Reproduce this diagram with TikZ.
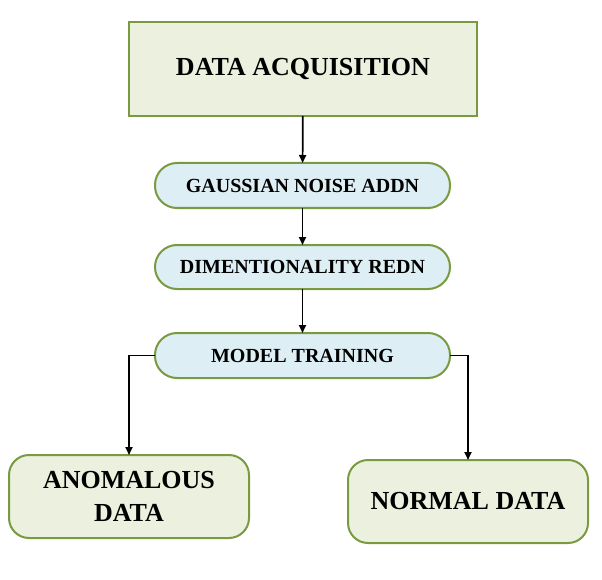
\documentclass[tikz,border=0pt]{standalone}
\usepackage{fontspec}
\setmainfont{Liberation Serif}
\usetikzlibrary{arrows.meta}
\definecolor{gfill}{HTML}{EBF1DE}
\definecolor{gdraw}{HTML}{7A9A40}
\definecolor{bfill}{HTML}{DDEEF4}
\tikzset{
  bigbox/.style={draw=gdraw, fill=gfill, line width=2pt, inner sep=0pt, outer sep=0pt,
    align=center, font=\fontsize{26}{33}\selectfont\bfseries},
  pillbox/.style={draw=gdraw, fill=bfill, line width=2pt, inner sep=0pt, outer sep=0pt,
    rounded corners=22pt, minimum width=295pt, minimum height=45pt,
    font=\fontsize{20}{23}\selectfont\bfseries},
  endbox/.style={bigbox, rounded corners=20pt, minimum width=240pt, minimum height=83pt},
  conn/.style={draw=black, line width=1.7pt, -{Triangle[length=8pt,width=7pt]}}
}
\begin{document}
\begin{tikzpicture}[x=1pt,y=-1pt]
\useasboundingbox (0,0) rectangle (602,580);
\node[bigbox, minimum width=348pt, minimum height=94pt] (acq) at (303,69) {DATA ACQUISITION};
\node[pillbox] (gauss) at (302.5,185.5) {GAUSSIAN NOISE ADDN};
\node[pillbox, minimum height=44pt] (dim) at (302.5,267) {DIMENTIONALITY REDN};
\node[pillbox] (model) at (302.5,355.5) {MODEL TRAINING};
\node[endbox] (anom) at (129,496.5) {ANOMALOUS\\DATA};
\node[endbox] (norm) at (468,501.5) {NORMAL DATA};
\draw[conn] (acq) -- (gauss);
\draw[conn] (gauss) -- (dim);
\draw[conn] (dim) -- (model);
\draw[conn] (model.west) -| (anom.north);
\draw[conn] (model.east) -| (norm.north);
\end{tikzpicture}
\end{document}
